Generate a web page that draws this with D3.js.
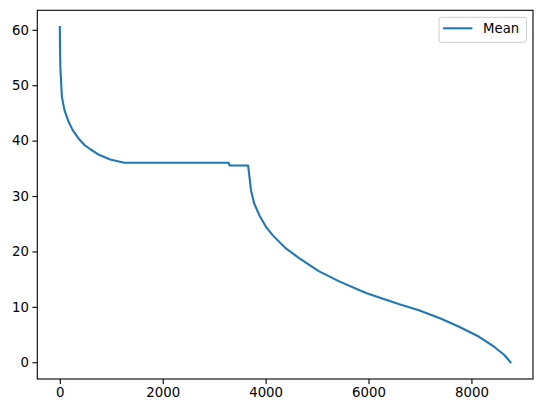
<!DOCTYPE html>
<html>
<head>
<meta charset="utf-8">
<script src="https://cdn.jsdelivr.net/npm/d3@7"></script>
<style>
  body { margin: 0; background: #fff; }
  svg text { font-family: "DejaVu Sans", sans-serif; fill: #000; }
</style>
</head>
<body>
<svg class="chart" width="543" height="413"></svg>
<script>
// duration curve
const hours = [0, 3, 10, 40, 90, 170, 250, 380, 480, 600, 770, 980, 1250, 3280, 3300, 3660, 3716, 3780,
  3880, 4010, 4140, 4400, 4650, 5040, 5430, 5950, 6600, 6980, 7400, 7760, 8150, 8440, 8640, 8759];
const meanValues = [60.5, 57, 53.3, 47.9, 45.5, 43.4, 41.9, 40.2, 39.2, 38.4, 37.4, 36.6, 36.0, 36.0, 35.5, 35.5, 31.0, 28.6,
  26.5, 24.4, 22.9, 20.5, 18.8, 16.4, 14.6, 12.5, 10.45, 9.4, 7.9, 6.4, 4.6, 2.8, 1.3, 0];
const xTicks = [0, 2000, 4000, 6000, 8000];
const yTicks = [0, 10, 20, 30, 40, 50, 60];
const seriesName = 'Mean';

const data = hours.map((h, i) => ({ h, v: meanValues[i] }));

const svg = d3.select('.chart');
const margin = { top: 10.3, right: 10, bottom: 34, left: 37.3 };
const width = 543 - margin.left - margin.right;
const height = 413 - margin.top - margin.bottom;
const g = svg.append('g').attr('transform', `translate(${margin.left}, ${margin.top})`);

// matplotlib-style 5% margins
const xMax = d3.max(hours);
const yMax = d3.max(meanValues);
const x = d3.scaleLinear().domain([-0.05 * xMax, 1.05 * xMax]).range([0, width]);
const y = d3.scaleLinear().domain([-0.05 * yMax, 1.05 * yMax]).range([height, 0]);

const tickLen = 4.9;
const fontSize = '13.3px';

const xAxis = g.append('g')
  .attr('transform', `translate(0, ${height})`)
  .call(d3.axisBottom(x).tickValues(xTicks).tickFormat(d3.format('d')).tickSize(tickLen).tickPadding(3.5));
const yAxis = g.append('g')
  .call(d3.axisLeft(y).tickValues(yTicks).tickFormat(d3.format('d')).tickSize(tickLen).tickPadding(3.5));

[xAxis, yAxis].forEach((a) => {
  a.select('.domain').remove();
  a.selectAll('line').attr('stroke', '#000').attr('stroke-width', 1.1);
  a.selectAll('text').style('font-size', fontSize).attr('fill', '#000').style('font-family', '"DejaVu Sans", sans-serif');
});

g.append('path')
  .datum(data)
  .attr('fill', 'none')
  .attr('stroke', '#1f77b4')
  .attr('stroke-width', 2.1)
  .attr('stroke-linejoin', 'round')
  .attr('stroke-linecap', 'square')
  .attr('d', d3.line().x(d => x(d.h)).y(d => y(d.v)));

// frame
g.append('rect')
  .attr('width', width)
  .attr('height', height)
  .attr('fill', 'none')
  .attr('stroke', '#000')
  .attr('stroke-width', 1.1);

// legend
const legend = g.append('g').attr('transform', `translate(${width - 94}, 7)`);
legend.append('rect')
  .attr('width', 87.4)
  .attr('height', 25)
  .attr('rx', 2.5)
  .attr('fill', '#fff')
  .attr('fill-opacity', 0.8)
  .attr('stroke', '#cccccc')
  .attr('stroke-width', 1);
legend.append('line')
  .attr('x1', 4).attr('x2', 33.4)
  .attr('y1', 11).attr('y2', 11)
  .attr('stroke', '#1f77b4')
  .attr('stroke-width', 2.1);
legend.append('text')
  .attr('x', 44)
  .attr('y', 16)
  .style('font-size', fontSize)
  .text(seriesName);
</script>
</body>
</html>
